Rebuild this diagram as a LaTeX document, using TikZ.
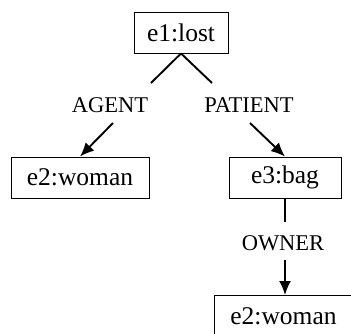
\documentclass[tikz,border=0pt]{standalone}
\usepackage{fontspec}
\setmainfont{Liberation Serif}
\usetikzlibrary{arrows.meta}
\begin{document}
\begin{tikzpicture}[x=1pt,y=-1pt,
  box/.style={draw,line width=0.9pt,inner sep=0pt,minimum height=41pt,font=\fontsize{25.5}{28}\selectfont},
  rel/.style={inner sep=0pt,font=\fontsize{22.5}{26}\selectfont},
  conn/.style={line width=1.9pt},
  arr/.style={conn,-{Latex[length=14pt,width=12pt]}}]
\useasboundingbox (0,0) rectangle (351,333);
\node[box,minimum width=94pt] (e1) at (181,32.5) {e1:lost};
\node[box,minimum width=138pt] (e2) at (80,177.5) {e2:woman};
\node[box,minimum width=112pt] (e3) at (285,177.5) {e3:bag};
\node[box,minimum width=138pt,anchor=north west] (e2b) at (214,295) {e2:woman};
\node[rel] (agent) at (110,105) {AGENT};
\node[rel] (patient) at (249,105) {PATIENT};
\node[rel] (owner) at (283,243) {OWNER};
\coordinate (a1) at (151,83);
\coordinate (a2) at (113,123);
\coordinate (p1) at (212,83);
\coordinate (p2) at (250,123);
\coordinate (o1) at (285,222);
\coordinate (o2) at (285,260);
\draw[conn] (e1.south) -- (a1);
\draw[arr] (a2) -- (e2.north);
\draw[conn] (e1.south) -- (p1);
\draw[arr] (p2) -- (e3.north);
\draw[conn] (e3.south) -- (o1);
\draw[arr] (o2) -- (e3.south |- e2b.north);
\end{tikzpicture}
\end{document}
